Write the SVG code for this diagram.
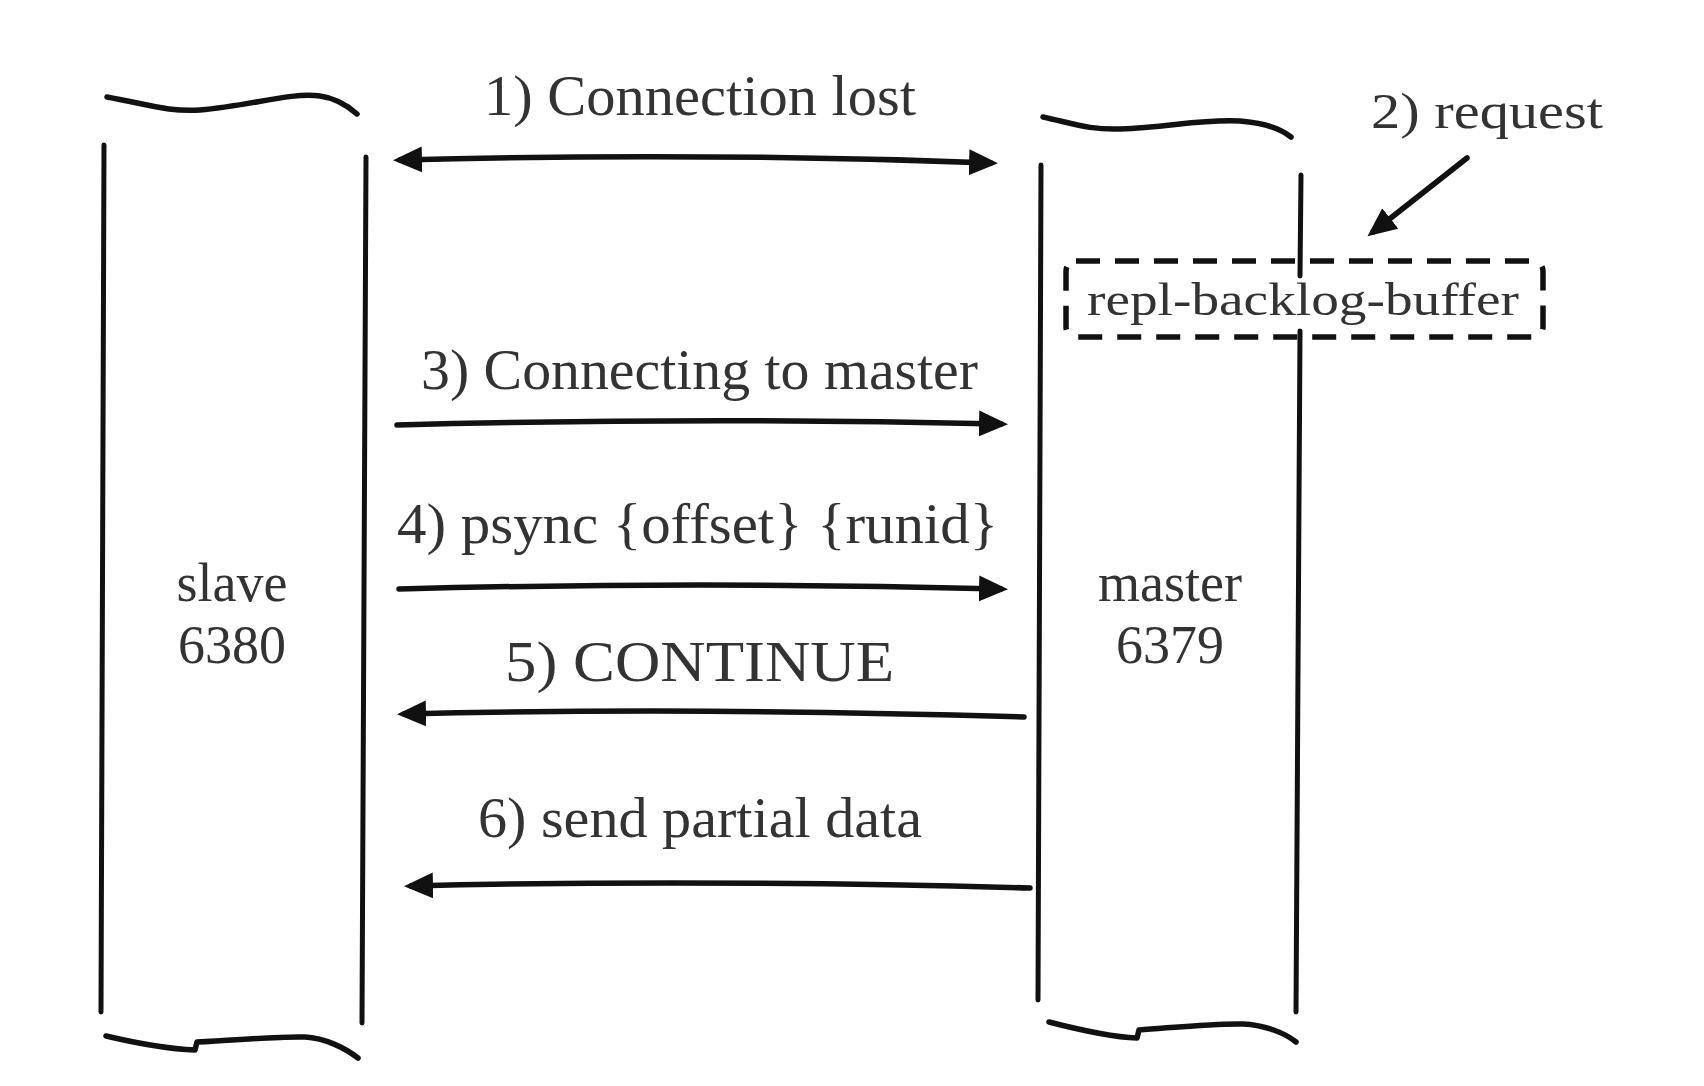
<svg xmlns="http://www.w3.org/2000/svg" width="1704" height="1086" viewBox="0 0 1704 1086">
<style>
.bg{fill:#ffffff}
.col{fill:none;stroke:#111;stroke-width:5;stroke-linecap:round}
.cap{fill:none;stroke:#111;stroke-width:5.5;stroke-linecap:round;stroke-linejoin:round}
.arr{fill:none;stroke:#111;stroke-width:5.5;stroke-linecap:round}
.lbl{font-family:"Liberation Serif","Times New Roman",serif;fill:#333;font-size:58px}
.nm{font-family:"Liberation Serif","Times New Roman",serif;fill:#333;font-size:54px;text-anchor:middle}
.dash{fill:none;stroke:#111;stroke-width:5.5;stroke-dasharray:24 15}
</style>
<defs>
<marker id="ah" markerUnits="userSpaceOnUse" markerWidth="32" markerHeight="28" refX="22" refY="13" orient="auto-start-reverse">
<path d="M0,0 L29,13 L0,26 z" fill="#111"/>
</marker>
</defs>
<rect class="bg" x="0" y="0" width="1704" height="1086"/>

<g id="slave">
<path class="cap" d="M107,97 C150,105 170,112 200,110 C250,106 290,92 320,96 C335,98 348,106 357,114"/>
<path class="col" d="M104,145 L101,1012"/>
<path class="col" d="M366,157 L362,1023"/>
<path class="cap" d="M106,1036 C140,1044 170,1049 195,1050 L197,1042 C240,1040 280,1036 305,1037 C325,1038 345,1048 358,1058"/>
<text class="nm" x="232" y="601">slave</text>
<text class="nm" x="232" y="663">6380</text>
</g>

<g id="master">
<path class="cap" d="M1043,117 C1075,124 1090,130 1120,129 C1170,127 1200,119 1240,121 C1265,123 1280,128 1291,137"/>
<path class="col" d="M1041,165 L1038,1000"/>
<path class="col" d="M1301,175 L1300,276"/>
<path class="col" d="M1300,331 L1296,1012"/>
<path class="cap" d="M1049,1022 C1080,1030 1110,1037 1137,1038 L1139,1030 C1180,1027 1220,1023 1243,1024 C1265,1025 1285,1033 1296,1042"/>
<text class="nm" x="1170" y="601">master</text>
<text class="nm" x="1170" y="663">6379</text>
</g>

<g id="buffer">
<rect class="dash" x="1066" y="261" width="477" height="76" rx="10"/>
<text class="lbl" x="1087" y="315" style="font-size:47px" textLength="432" lengthAdjust="spacingAndGlyphs">repl-backlog-buffer</text>
</g>

<g id="connectors">
<path class="arr" d="M400,160 Q695,152 991,163" marker-start="url(#ah)" marker-end="url(#ah)"/>
<path class="arr" d="M397,425 Q700,417 1001,424" marker-end="url(#ah)"/>
<path class="arr" d="M399,589 Q700,581 1001,589" marker-end="url(#ah)"/>
<path class="arr" d="M1024,717 Q700,707 404,714" marker-end="url(#ah)"/>
<path class="arr" d="M1030,888 Q700,879 411,886" marker-end="url(#ah)"/>
<path class="arr" d="M1467,158 L1373,232" marker-end="url(#ah)"/>
</g>

<g id="labels">
<text class="lbl" x="484" y="115" textLength="432" lengthAdjust="spacingAndGlyphs">1) Connection lost</text>
<text class="lbl" x="1371" y="128" style="font-size:50px" textLength="232" lengthAdjust="spacingAndGlyphs">2) request</text>
<text class="lbl" x="421" y="389" textLength="557" lengthAdjust="spacingAndGlyphs">3) Connecting to master</text>
<text class="lbl" x="397" y="543" textLength="601" lengthAdjust="spacingAndGlyphs">4) psync {offset} {runid}</text>
<text class="lbl" x="505" y="681" textLength="389" lengthAdjust="spacingAndGlyphs">5) CONTINUE</text>
<text class="lbl" x="478" y="837" textLength="444" lengthAdjust="spacingAndGlyphs">6) send partial data</text>
</g>
</svg>
